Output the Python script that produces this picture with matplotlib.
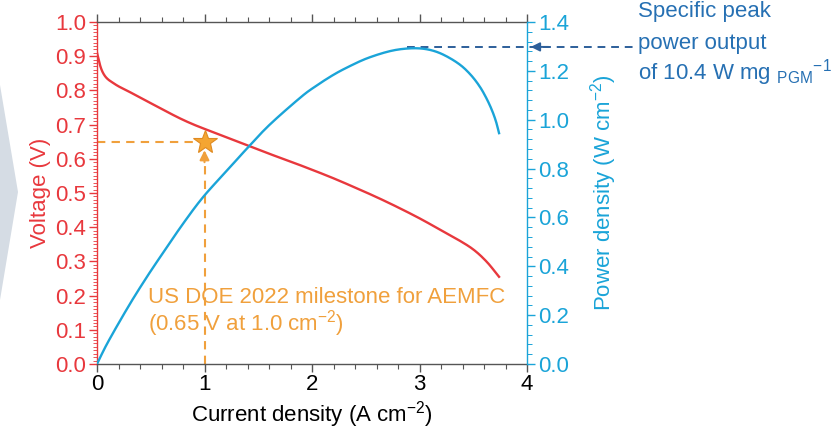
import numpy as np
import matplotlib.pyplot as plt
from matplotlib.patches import Polygon

plt.rcParams['font.family'] = 'Liberation Sans'
plt.rcParams['mathtext.fontset'] = 'custom'
plt.rcParams['mathtext.rm'] = 'Liberation Sans'
plt.rcParams['mathtext.it'] = 'Liberation Sans:italic'
plt.rcParams['axes.unicode_minus'] = True

# curva de polarizacao
current_v = [0, 0.01, 0.03, 0.05, 0.074, 0.1, 0.13, 0.2, 0.3, 0.45, 0.6, 0.76, 0.9, 1.07, 1.25, 1.41,
             1.6, 1.8, 2.0, 2.2, 2.4, 2.6, 2.8, 3.0, 3.19, 3.35, 3.5, 3.625, 3.74]
voltage = [0.91, 0.897, 0.872, 0.855, 0.842, 0.833, 0.826, 0.812, 0.796, 0.771, 0.746, 0.720, 0.700, 0.679,
           0.657, 0.638, 0.615, 0.592, 0.568, 0.543, 0.516, 0.488, 0.458, 0.426, 0.393, 0.365, 0.335,
           0.299, 0.255]

# curva de densidade de potencia
current_p = [0, 0.1, 0.29, 0.45, 0.6, 0.8, 0.99, 1.22, 1.38, 1.6, 1.89, 2.03, 2.2, 2.35,
             2.51, 2.7, 2.85, 3.0, 3.13, 3.25, 3.38, 3.48, 3.56, 3.62, 3.67, 3.71, 3.74]
power = [0, 0.088, 0.234, 0.347, 0.446, 0.574, 0.685, 0.797, 0.875, 0.977, 1.090, 1.136, 1.184, 1.219,
         1.251, 1.278, 1.290, 1.292, 1.282, 1.260, 1.224, 1.182, 1.136, 1.090, 1.043, 0.995, 0.945]

milestone_i = 1.0
milestone_v = 0.65
peak_i = 2.88
peak_p = 1.298

red = '#e8383d'
blue = '#1aa4d8'
orange = '#f0a03c'
dark_blue = '#2670b3'
gray = '#555555'


# so para desenhar a linha suave passando pelos pontos lidos (Catmull-Rom)
def smooth(xs, ys, n=12):
    p = np.column_stack([xs, ys]).astype(float)
    p = np.vstack([2 * p[0] - p[1], p, 2 * p[-1] - p[-2]])
    out = []
    t = np.linspace(0, 1, n, endpoint=False)[:, None]
    for k in range(1, len(p) - 2):
        p0, p1, p2, p3 = p[k - 1], p[k], p[k + 1], p[k + 2]
        seg = 0.5 * ((2 * p1) + (-p0 + p2) * t + (2 * p0 - 5 * p1 + 4 * p2 - p3) * t ** 2
                     + (-p0 + 3 * p1 - 3 * p2 + p3) * t ** 3)
        out.append(seg)
    out.append(p[-2][None, :])
    out = np.vstack(out)
    return out[:, 0], out[:, 1]


W, H = 831, 432
fig = plt.figure(figsize=(W / 100, H / 100), dpi=100)

# seta cinza no canto esquerdo
chev = Polygon([(0 / W, 1 - 85 / H), (18 / W, 1 - 192 / H), (0 / W, 1 - 300 / H)],
               closed=True, transform=fig.transFigure, facecolor='#d5dce4', edgecolor='none')
fig.patches.append(chev)

ax = fig.add_axes([97 / W, (H - 364) / H, (527 - 97) / W, (364 - 22) / H])
ax2 = ax.twinx()

ax.plot(*smooth(current_v, voltage), color=red, lw=1.7, zorder=3)
ax2.plot(*smooth(current_p, power), color=blue, lw=1.7, zorder=3)

ax.set_xlim(0, 4)
ax.set_ylim(0, 1.0)
ax2.set_ylim(0, 1.4)

ax.set_xticks([0, 1, 2, 3, 4])
ax.set_xticks([i * 0.2 for i in range(21)], minor=True)
ax.set_yticks([i / 10 for i in range(11)])
ax.set_yticklabels([f'{i / 10:.1f}' for i in range(11)])
ax.set_yticks([i / 100 for i in range(101)], minor=True)
ax2.set_yticks([i * 0.2 for i in range(8)])
ax2.set_yticklabels([f'{i * 0.2:.1f}' for i in range(8)])
ax2.set_yticks([i * 0.04 for i in range(36)], minor=True)

for s in ['top', 'bottom']:
    ax.spines[s].set_color(gray)
    ax2.spines[s].set_visible(False)
ax.spines['left'].set_color(red)
ax.spines['right'].set_visible(False)
ax2.spines['left'].set_visible(False)
ax2.spines['right'].set_color(blue)
for sp in list(ax.spines.values()) + list(ax2.spines.values()):
    sp.set_linewidth(1.0)

fs = 16
ax.tick_params(axis='x', which='both', direction='out', top=True, colors=gray, labelcolor='black',
               labelsize=fs, pad=1)
ax.tick_params(axis='x', which='major', length=6, width=1.0)
ax.tick_params(axis='x', which='minor', length=3.5, width=0.8)
ax.tick_params(axis='y', which='both', direction='out', colors=red, labelsize=fs, pad=2)
ax.tick_params(axis='y', which='major', length=6, width=1.0)
ax.tick_params(axis='y', which='minor', length=3, width=0.6)
ax2.tick_params(axis='y', which='both', direction='out', colors=blue, labelsize=fs, pad=2)
ax2.tick_params(axis='y', which='major', length=6, width=1.0)
ax2.tick_params(axis='y', which='minor', length=3.5, width=0.7)

ax.set_xlabel('Current density (A cm$^{-2}$)', fontsize=fs, labelpad=3)
ax.set_ylabel('Voltage (V)', fontsize=fs, color=red, labelpad=3)
ax2.set_ylabel('Power density (W cm$^{-2}$)', fontsize=fs, color=blue, labelpad=14)

# marco DOE: linhas tracejadas, estrela e seta
ax.plot([0, milestone_i - 0.07], [milestone_v, milestone_v], color=orange, lw=1.5,
        linestyle=(0, (4, 3)), zorder=2)
ax.plot([milestone_i, milestone_i], [0, milestone_v - 0.06], color=orange, lw=1.5,
        linestyle=(0, (4, 3)), zorder=2)
ax.annotate('', xy=(milestone_i, milestone_v - 0.025), xytext=(milestone_i, milestone_v - 0.06),
            arrowprops=dict(arrowstyle='-|>', color=orange, lw=1.5, mutation_scale=14,
                            shrinkA=0, shrinkB=0), zorder=4)
ax.plot([milestone_i], [milestone_v], marker='*', markersize=18, color='#f4a532',
        markeredgecolor='#e08a20', markeredgewidth=0.8, zorder=5)

ax.text(0.474, 0.178, 'US DOE 2022 milestone for AEMFC', color=orange, fontsize=fs,
        va='baseline', ha='left', zorder=6)
ax.text(0.474, 0.099, '(0.65 V at 1.0 cm$^{-2}$)', color=orange, fontsize=fs,
        va='baseline', ha='left', zorder=6)

# potencia de pico
ax2.plot([peak_i, 5.0], [peak_p, peak_p], color='#2d5f9a', lw=1.4, linestyle=(0, (4, 3)),
         clip_on=False, zorder=2)
ax2.annotate('', xy=(4.035, peak_p), xytext=(4.2, peak_p),
             arrowprops=dict(arrowstyle='-|>', color='#2d5f9a', lw=1.4, mutation_scale=13,
                             shrinkA=0, shrinkB=0), annotation_clip=False)

fig.text(638 / W, 1 - 17 / H, 'Specific peak', color=dark_blue, fontsize=fs, va='baseline')
fig.text(638 / W, 1 - 49 / H, 'power output', color=dark_blue, fontsize=fs, va='baseline')
fig.text(638 / W, 1 - 80 / H, 'of 10.4 W mg $_{\\rm PGM}{}^{-1}$', color=dark_blue, fontsize=fs,
         va='baseline')

fig.savefig('out.png', dpi=100)
